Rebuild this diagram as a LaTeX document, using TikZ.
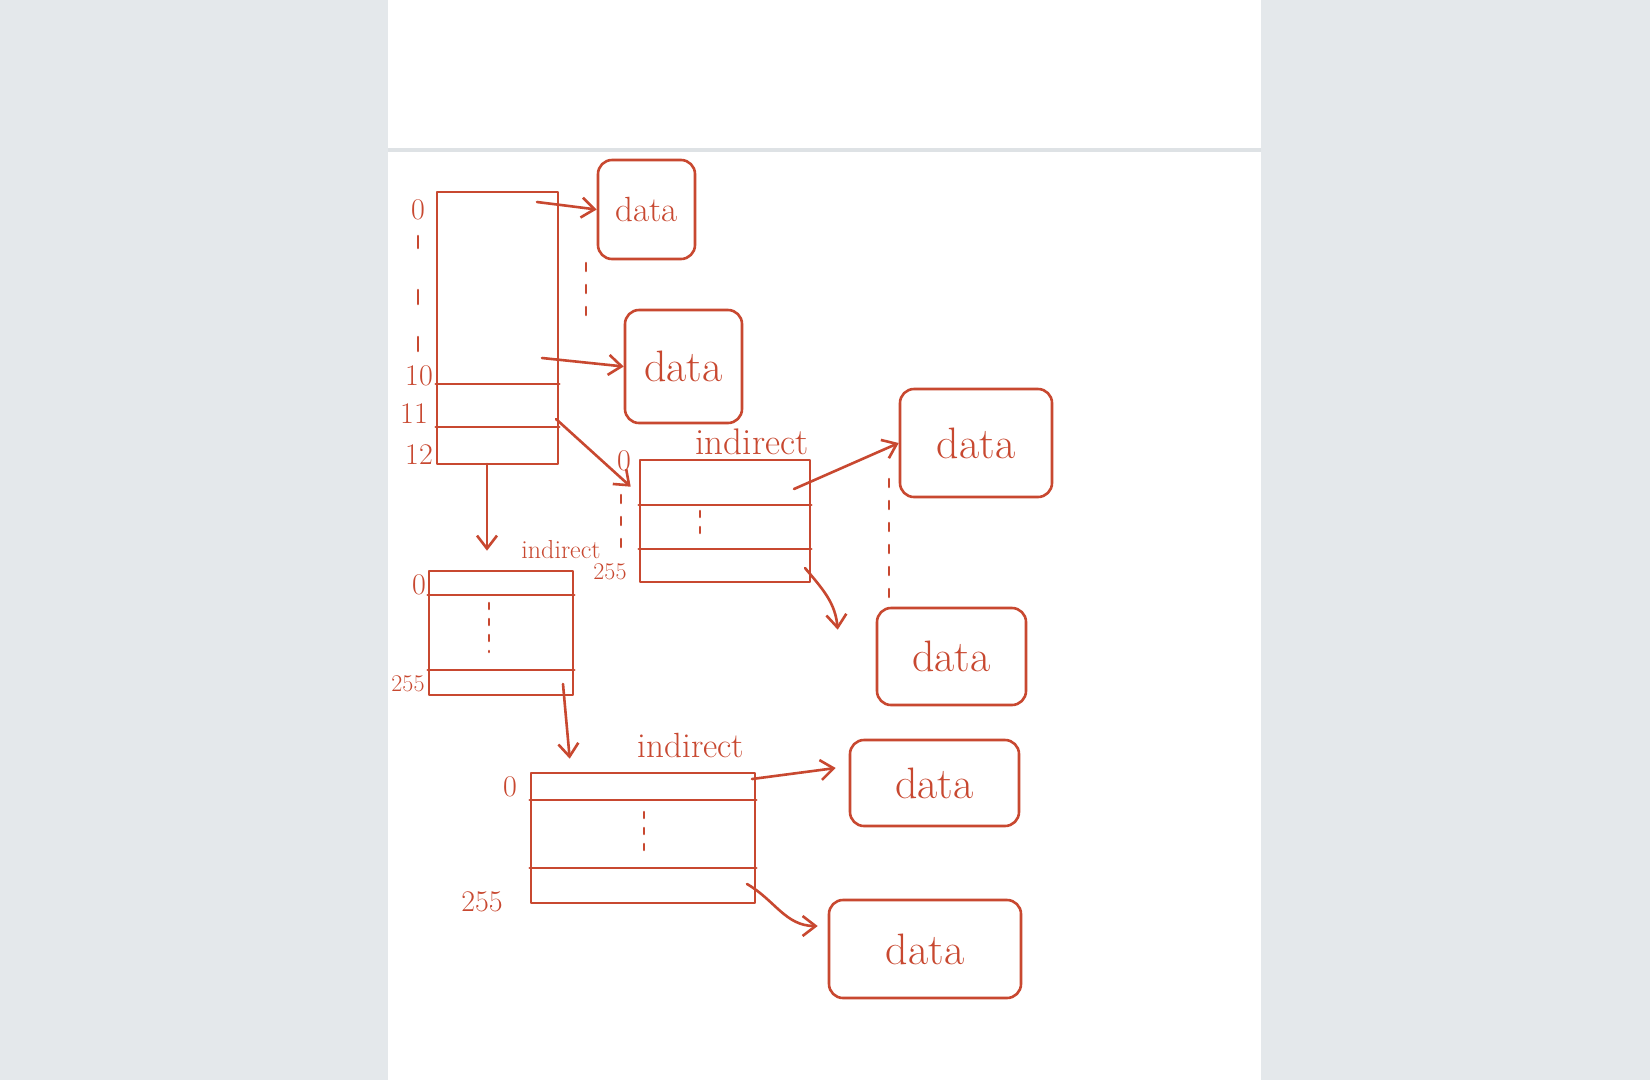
\documentclass[tikz,border=0pt]{standalone}
\usetikzlibrary{arrows.meta,calc}
\definecolor{ink}{RGB}{200,72,48}
\definecolor{bggray}{RGB}{228,232,235}
\definecolor{rulegray}{RGB}{222,226,229}
\begin{document}
\begin{tikzpicture}[x=1pt,y=-1pt,
  pen/.style={draw=ink,line width=2.6pt,line cap=round,line join=round},
  blockbox/.style={pen,rectangle,inner sep=0pt},
  databox/.style={pen,rectangle,rounded corners=14pt,inner sep=0pt,text=ink,font=\fontsize{44}{50}\selectfont},
  lbl/.style={text=ink,inner sep=0pt,font=\fontsize{30}{34}\selectfont},
  indlbl/.style={text=ink,inner sep=0pt},
  ptr/.style={pen,-{Straight Barb[length=13pt,width=20pt,line width=2.6pt]}},
  ell/.style={pen,dash pattern=on 8pt off 14pt},
  rowline/.style={pen}]
% background
\fill[bggray] (0,0) rectangle (1650,1080);
\fill[white] (388,0) rectangle (1261,1080);
\useasboundingbox (0,0) rectangle (1650,1080);
\draw[rulegray,line width=4pt] (388,150) -- (1261,150);

% main inode block
\node[blockbox,minimum width=121pt,minimum height=272pt] (main) at (497.5,328) {};
\draw[rowline] (main.west |- 0,384) -- (main.east |- 0,384);
\draw[rowline] (main.west |- 0,427) -- (main.east |- 0,427);
\node[lbl] (l0) at (418,210) {0};
\draw[pen] (418,236) -- (418,248);
\draw[pen] (418,290) -- (418,304);
\draw[pen] (418,337) -- (418,351);
\node[lbl] (l10) at (419,376) {10};
\node[lbl] (l11) at (414,414) {11};
\node[lbl] (l12) at (419,455) {12};

% direct data blocks
\node[databox,minimum width=97pt,minimum height=99pt,font=\fontsize{35}{40}\selectfont] (d1) at (646.5,209.5) {data};
\node[databox,minimum width=117pt,minimum height=113pt] (d2) at (683.5,366.5) {data};
\draw[ell] (586,263) -- (586,318);
\coordinate (a1s) at (537,202);
\coordinate (a2s) at (542,358);
\draw[ptr] (a1s) -- (d1.west);
\draw[ptr] (a2s) -- (d2.west);

% single indirect block
\node[blockbox,minimum width=170pt,minimum height=122pt] (sind) at (725,521) {};
\draw[rowline] (sind.west |- 0,505) -- (sind.east |- 0,505);
\draw[rowline] (sind.west |- 0,549) -- (sind.east |- 0,549);
\node[indlbl,font=\fontsize{37}{42}\selectfont] (sindl) at (752,442) {indirect};
\node[lbl] (s0) at (624,461) {0};
\node[lbl,font=\fontsize{24}{28}\selectfont] (s255) at (610,572) {255};
\draw[ell] (621,495) -- (621,550);
\draw[ell,dash pattern=on 6pt off 10pt] (700,511) -- (700,542);
\coordinate (r11) at (556,419);
\draw[ptr] (r11) -- ([xshift=-8pt,yshift=-28pt]sind.north west);

% data blocks of single indirect
\node[databox,minimum width=152pt,minimum height=108pt] (d3) at (976,443) {data};
\node[databox,minimum width=149pt,minimum height=97pt] (d4) at (951.5,656.5) {data};
\draw[ell] (889,479) -- (889,602);
\coordinate (s0s) at (794,489);
\coordinate (s255s) at (805,568);
\draw[ptr] (s0s) -- (d3.west);
\draw[ptr] (s255s) to[out=-50,in=95] ([xshift=-38pt,yshift=-23pt]d4.north west);

% double indirect, first level
\coordinate (r12) at (487,464);
\node[blockbox,minimum width=144pt,minimum height=124pt] (dbl1) at (501,633) {};
\draw[rowline] (dbl1.west |- 0,595) -- (dbl1.east |- 0,595);
\draw[rowline] (dbl1.west |- 0,670) -- (dbl1.east |- 0,670);
\node[indlbl,font=\fontsize{26}{30}\selectfont] (dbl1l) at (561,550) {indirect};
\node[lbl] (b0) at (419,585) {0};
\node[lbl,font=\fontsize{24}{28}\selectfont] (b255) at (408,684) {255};
\draw[ell,dash pattern=on 6pt off 10pt] (489,603) -- (489,652);
\draw[ptr] (r12) -- ([xshift=-14pt,yshift=19pt]dbl1.north);

% double indirect, second level
\coordinate (b255s) at (563,684);
\node[blockbox,minimum width=224pt,minimum height=130pt] (dbl2) at (643,838) {};
\draw[rowline] (dbl2.west |- 0,800) -- (dbl2.east |- 0,800);
\draw[rowline] (dbl2.west |- 0,868) -- (dbl2.east |- 0,868);
\node[indlbl,font=\fontsize{35}{40}\selectfont] (dbl2l) at (691,745) {indirect};
\node[lbl] (c0) at (510,787) {0};
\node[lbl] (c255) at (482,902) {255};
\draw[ell,dash pattern=on 6pt off 10pt] (644,812) -- (644,854);
\draw[ptr] (b255s) to[out=-85,in=95] ([xshift=40pt,yshift=13pt]dbl2.north west);

% data blocks of double indirect
\node[databox,minimum width=169pt,minimum height=86pt] (d5) at (934.5,783) {data};
\node[databox,minimum width=192pt,minimum height=98pt] (d6) at (925,949) {data};
\coordinate (c0s) at (752,779);
\coordinate (c255s) at (747,884);
\draw[ptr] (c0s) -- ([xshift=-13pt,yshift=15pt]d5.west);
\draw[ptr] (c255s) to[out=-30,in=180] ([xshift=-10pt,yshift=23pt]d6.west);
\end{tikzpicture}
\end{document}
